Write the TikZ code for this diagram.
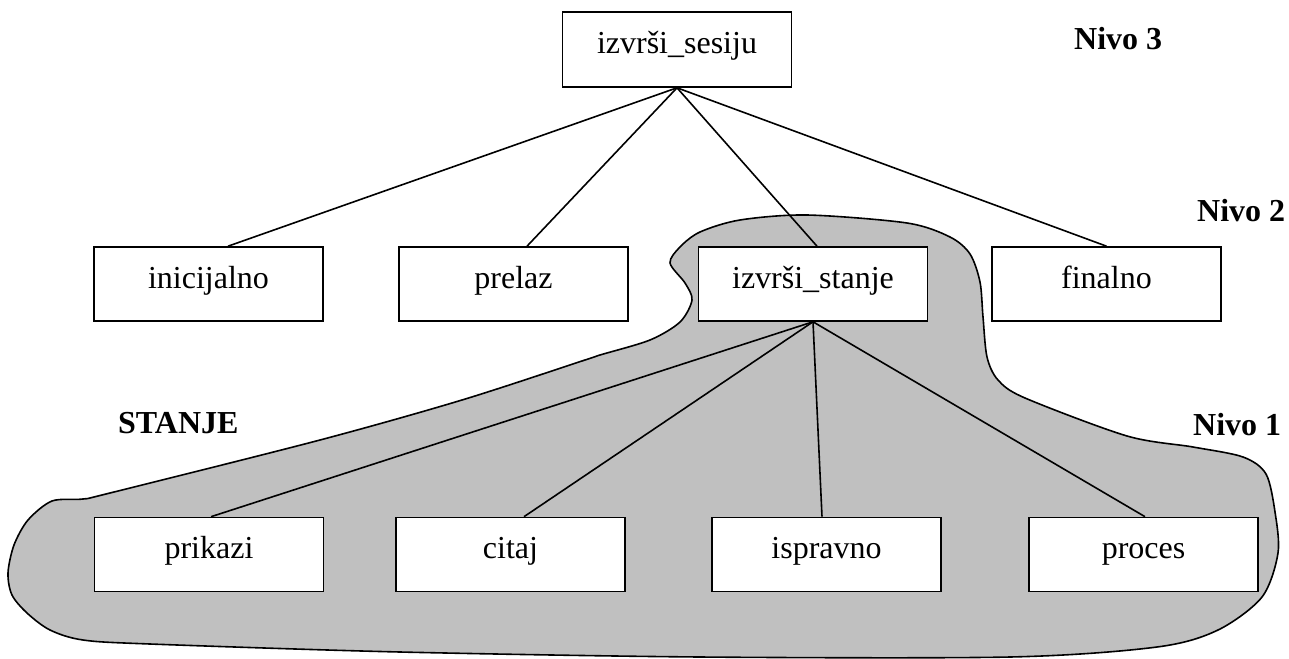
\documentclass[tikz,border=0pt]{standalone}
\usepackage{fontspec}
\setmainfont{Liberation Serif}
\begin{document}
\begin{tikzpicture}[x=1pt,y=-1pt,
  box/.style={draw, fill=white, line width=1.6pt, inner sep=0pt,
    minimum width=229pt, text height=41pt, text depth=33pt,
    font=\fontsize{32}{38}\selectfont},
  conn/.style={line width=1.6pt},
  level/.style={anchor=base west, inner sep=0pt,
    font=\fontsize{32}{38}\selectfont\bfseries}]
\useasboundingbox (0,0) rectangle (1289,658);

% shaded region grouping the state subtree
\draw[line width=1.6pt, fill={rgb,255:red,192;green,192;blue,192}]
  plot[smooth cycle, tension=0.5] coordinates {
    (600,355) (650,340) (680,322) (692,300) (685,283) (670,263)
    (680,247) (700,232) (740,220) (807,215) (907,223) (950,237)
    (970,254) (980,282) (983,317) (987,357) (998,380) (1025,398)
    (1127,436) (1193,447) (1243,457) (1266,474) (1275,512)
    (1278,553) (1262,597) (1218,630) (1157,647) (1010,657) (700,657)
    (400,652) (150,644) (83,640) (50,630) (27,613) (12,595)
    (8,573) (14,545) (28,520) (52,501) (83,499) (110,493)
    (320,440) (462,400) (585,360)};

% nodes
\node[box, text height=42pt] (ses) at (677,49.5) {izvrši\_sesiju};
\node[box] (ini) at (208.5,284) {inicijalno};
\node[box] (pre) at (513.5,284) {prelaz};
\node[box] (sta) at (813,284) {izvrši\_stanje};
\node[box] (fin) at (1106.5,284) {finalno};
\node[box] (pri) at (209,554.5) {prikazi};
\node[box] (cit) at (510.5,554.5) {citaj};
\node[box] (isp) at (826.5,554.5) {ispravno};
\node[box] (pro) at (1143.5,554.5) {proces};

% connectors
\draw[conn] (ses.south) -- ([xshift=19.5pt]ini.north);
\draw[conn] (ses.south) -- ([xshift=13.5pt]pre.north);
\draw[conn] (ses.south) -- ([xshift=4pt]sta.north);
\draw[conn] (ses.south) -- (fin.north);
\draw[conn] (sta.south) -- ([xshift=2pt]pri.north);
\draw[conn] (sta.south) -- ([xshift=13.5pt]cit.north);
\draw[conn] (sta.south) -- ([xshift=-4.5pt]isp.north);
\draw[conn] (sta.south) -- ([xshift=1.5pt]pro.north);

% level labels
\node[level] (n3) at (1074,50) {Nivo 3};
\node[level] (n2) at (1197,221) {Nivo 2};
\node[level] (n1) at (1193,435) {Nivo 1};
\node[level] (st) at (118,433) {STANJE};
\end{tikzpicture}
\end{document}
